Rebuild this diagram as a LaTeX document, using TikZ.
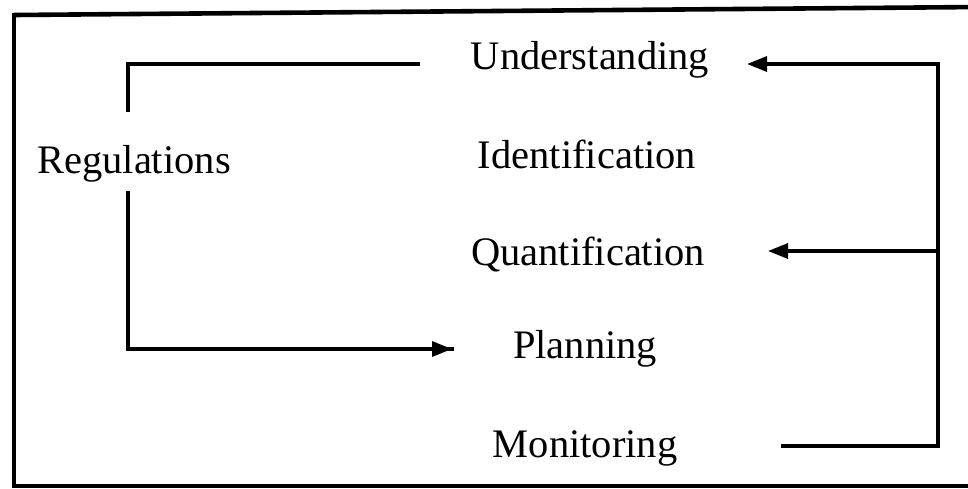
\documentclass[tikz,border=0pt]{standalone}
\usepackage{fontspec}
\setmainfont{Liberation Serif}
\usetikzlibrary{arrows.meta}
\begin{document}
\begin{tikzpicture}[x=1pt,y=-1pt,
  label/.style={anchor=base,inner sep=0pt,font=\fontsize{40.5}{44}\selectfont},
  link/.style={line width=3.2pt,line cap=rect},
  arr/.style={link,-{Triangle[length=20pt,width=15pt]}},
  frame/.style={line width=4.6pt}]
\useasboundingbox (0,0) rectangle (968,488);
\begin{scope}
\clip (0,0) rectangle (968,488);
% outer frame (right side runs off the page)
\draw[frame] (14,15) -- (980,7);
\draw[frame] (14,13) -- (14,486) -- (980,486);
\end{scope}

% labels
\node[label] (und) at (590,69)  {Understanding};
\node[label] (ide) at (587,168) {Identification};
\node[label] (qua) at (588,265) {Quantification};
\node[label] (pla) at (585,358) {Planning};
\node[label] (mon) at (585,457) {Monitoring};
\node[label] (reg) at (134,173) {Regulations};

% connector end points
\coordinate (regtop) at (128,110);
\coordinate (tlcorner) at (128,64);
\coordinate (tlend) at (418,64);
\coordinate (regbot) at (128,193);
\coordinate (blcorner) at (128,349);
\coordinate (plain) at (452,349);
\coordinate (undin) at (747,64);
\coordinate (rtop) at (938,64);
\coordinate (quain) at (768,251);
\coordinate (rmid) at (938,251);
\coordinate (rbot) at (938,446);
\coordinate (monout) at (783,446);

% Regulations bracket
\draw[link] (regtop) -- (tlcorner) -- (tlend);
\draw[link] (regbot) -- (blcorner) -- (plain);
\draw[arr] (blcorner) -- (plain);

% feedback loop from Monitoring
\draw[link] (monout) -- (rbot) -- (rtop);
\draw[arr] (rtop) -- (undin);
\draw[arr] (rmid) -- (quain);
\end{tikzpicture}
\end{document}
